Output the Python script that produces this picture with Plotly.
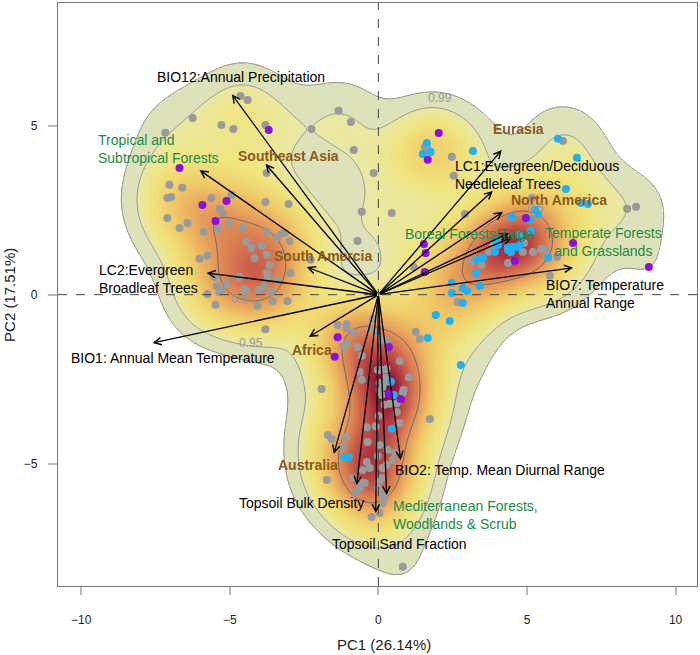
import numpy as np
import plotly.graph_objects as go

# ---------------- data (PC1, PC2 scores) ----------------
gray_x = [-4.64, -4.40, -6.25, -7.17, -5.28, -4.88, -3.80, -2.25, -1.34, -0.93,
          -3.76, -7.03, -6.60, -6.97, -7.10, -5.62, -4.94, -3.80, -3.02, -7.10,
          -6.69, -6.42, -5.34, -5.24, -5.40, -5.04, -4.57, -3.76, -3.43, -3.26,
          -3.16, -2.99, -5.88, -4.44, -4.27, -4.17, -3.76, -6.02, -5.75, -2.28,
          -3.66, -3.76, -3.73, -3.43, -2.96, -5.51, -5.44, -5.11, -4.67, -4.51,
          -4.44, -5.25, -5.35, -5.75, -3.83, -3.60, -4.03, -5.48, -4.07, -3.56,
          -3.06, -3.80, -3.93,
          -0.83, -0.16, -0.56, 0.45, -0.70, 2.47, 2.54, 1.56, 1.66, 2.91,
          1.19, 6.21, 8.37, 8.67, 5.17, 4.90, 4.86, 5.20, 5.47, 5.64,
          6.01, 4.36, 3.48, 3.14, 3.86, 3.72, 5.77, 2.67,
          -0.19, -1.37, -1.07, -1.07, -0.83, -0.23, -0.02, 1.26, 1.39, -1.07,
          -1.17, -0.70, 0.08, 0.28, -0.56, 0.72, -0.02, 0.11, 0.28, -0.63,
          -0.56, 1.02, 0.25, -1.91, 0.04, 0.14, 0.28, 0.04, 0.11, 0.85,
          0.82, 0.21, 0.38, 0.62, 0.62, 0.01, 0.72, -0.09, -0.39, 1.73,
          -1.70, -1.57, -1.10, -1.20, 0.04, -0.36, 0.31, 0.55, -0.02, -0.39,
          0.48, -0.53, -0.29, 0.14, 0.28, -1.74, -0.87, -0.63, -0.46, 0.01,
          0.11, -0.76, -0.63, -0.02, 0.14, 0.21, 0.14, -0.23, 0.04, 0.82]
gray_y = [5.88, 5.76, 5.23, 4.79, 5.02, 4.90, 5.02, 4.90, 5.44, 5.11,
          3.60, 3.25, 3.16, 2.89, 2.86, 2.86, 2.95, 2.74, 2.68, 2.27,
          1.97, 2.12, 2.54, 2.42, 1.95, 2.12, 1.97, 1.86, 1.68, 1.80,
          1.83, 1.59, 1.86, 1.56, 1.38, 1.08, 1.18, 1.06, 1.15, 1.03,
          0.88, 0.64, 0.52, 0.46, 0.64, 0.52, 0.26, 0.35, 0.52, 0.17,
          0.11, 0.14, 0.08, 0.02, 0.26, 0.08, 0.14, -0.30, -0.33, -0.19,
          -0.19, -1.02, 1.45,
          4.28, 3.60, 2.45, 2.42, 1.59, 4.08, 3.52, 4.37, 4.31, 2.39,
          0.82, 4.55, 2.54, 2.60, 2.86, 1.53, 1.26, 1.26, 1.35, 1.35,
          1.12, 0.94, 0.88, 0.97, 1.47, 1.27, 0.56, -0.22,
          -0.72, -0.90, -0.87, -0.99, -1.13, -1.02, -1.13, -1.10, -1.31, -1.43,
          -1.52, -1.55, -1.34, -1.37, -1.81, -1.96, -2.23, -2.23, -2.20, -2.29,
          -2.52, -2.44, -2.44, -2.79, -2.61, -2.73, -2.58, -2.82, -2.97, -2.82,
          -2.91, -3.26, -3.23, -3.21, -3.47, -3.59, -3.80, -3.89, -3.92, -3.68,
          -4.15, -4.27, -4.21, -4.51, -4.45, -4.36, -4.59, -4.68, -4.77, -4.95,
          -4.89, -5.19, -5.13, -5.13, -5.04, -5.48, -5.43, -5.54, -5.57, -5.54,
          -5.43, -5.84, -5.72, -5.72, -5.87, -6.02, -6.17, -6.58, -6.46, -8.05]

purple_x = [-3.69, -6.69, -5.11, -5.92, -5.48, 2.03, 1.66, 1.53, 1.59, 1.56,
            4.96, 6.55, 4.59, 9.10, -1.37, -1.47, 0.35, 0.35, 0.75]
purple_y = [4.87, 3.75, 2.77, 2.65, 2.18, 4.78, 3.99, 1.50, 1.23, 0.67,
            2.27, 1.53, 1.00, 0.82, -1.26, -1.84, -1.55, -2.94, -3.09]

blue_x = [1.63, 1.49, 1.76, 3.18, 6.04, 6.68, 6.31, 6.82, 7.05, 5.27,
          5.37, 4.49, 5.10, 5.13, 4.76, 3.99, 4.02, 4.36, 4.53, 4.66,
          4.76, 4.36, 3.92, 4.46, 5.71, 3.31, 3.52, 3.28, 3.41, 2.47,
          2.47, 2.84, 2.98, 2.84, 1.93, 2.40, 1.66, 2.77, 0.42, 0.52,
          0.45, -1.14, -1.00]
blue_y = [4.49, 4.16, 4.22, 4.25, 4.61, 4.05, 3.13, 2.71, 2.68, 2.51,
          2.39, 2.30, 2.21, 1.89, 1.77, 1.62, 1.47, 1.41, 1.41, 1.41,
          1.47, 1.32, 1.26, 1.26, 1.09, 1.03, 1.09, 0.64, 0.26, 0.35,
          0.05, 0.20, 0.11, -0.25, -0.60, -0.78, -1.28, -2.08, -2.58, -2.97,
          -3.97, -4.80, -4.80]

# loading arrows (tips)
arrow_x = [-4.93, -6.02, -3.80, -2.41, -5.78, -7.60, -2.34, -1.50, -0.73, -0.09,
           0.28, 0.75, 4.15, 3.85, 4.19, 4.39, 4.50, 6.55]
arrow_y = [5.93, 3.69, 3.87, 0.82, 0.64, -1.43, -1.25, -4.71, -5.63, -6.46,
           -5.93, -4.89, 4.28, 3.07, 2.45, 1.82, 1.70, 0.80]

# variable labels (black)
var_text = ["BIO12:Annual Precipitation", "LC2:Evergreen<br>Broadleaf Trees",
            "BIO1: Annual Mean Temperature", "Topsoil Bulk Density",
            "Topsoil Sand Fraction", "BIO2: Temp. Mean Diurnal Range",
            "LC1:Evergreen/Deciduous<br>Needleleaf Trees", "BIO7: Temperature<br>Annual Range"]
var_x = [-4.61, -9.46, -6.90, -2.58, 0.72, 4.08, 2.50, 5.57]
var_y = [6.44, 0.46, -1.87, -6.17, -7.38, -5.19, 3.53, 0.01]
var_anchor = ["center", "left", "center", "center", "center", "center", "left", "left"]

# biome labels (green)
biome_text = ["Tropical and<br>Subtropical Forests", "Mediterranean Forests,<br>Woodlands & Scrub",
              "Boreal Forests/Taiga", "Temperate Forests<br>and Grasslands"]
biome_x = [-9.49, 0.41, 3.08, 7.56]
biome_y = [4.31, -6.52, 1.80, 1.56]
biome_anchor = ["left", "left", "center", "center"]

# region labels (brown, bold)
region_text = ["Southeast Asia", "South Amercia", "Africa", "Australia", "Eurasia", "North America"]
region_x = [-3.02, -1.88, -2.25, -2.38, 4.73, 6.08]
region_y = [4.11, 1.15, -1.64, -5.04, 4.90, 2.81]

# contour labels
clabel_text = ["0.99", "0.95", "0.5", "0.5"]
clabel_x = [2.06, -4.27, -4.67, 5.30]
clabel_y = [5.83, -1.42, -0.13, 2.55]
contour_probs = [0.99, 0.95, 0.5]

XR = [-10.78, 10.72]
YR = [-8.62, 8.63]

# ---------------- kernel density ----------------
ax_ = np.array(gray_x + purple_x + blue_x)
ay_ = np.array(gray_y + purple_y + blue_y)
n = len(ax_)
gx = np.linspace(XR[0], XR[1], 440)
gy = np.linspace(YR[0], YR[1], 380)
hx, hy = 0.95, 0.85
norm = n * 2 * np.pi * hx * hy
Kx = np.exp(-0.5 * ((gx[None, :] - ax_[:, None]) / hx) ** 2)
Ky = np.exp(-0.5 * ((gy[None, :] - ay_[:, None]) / hy) ** 2)
dens = (Ky.T @ Kx) / norm

# density at the sample points -> contour levels (levels tuned by eye to the picture)
dxp = (ax_[:, None] - ax_[None, :]) / hx
dyp = (ay_[:, None] - ay_[None, :]) / hy
f_pts = np.exp(-0.5 * (dxp ** 2 + dyp ** 2)).sum(axis=1) / norm
thr = {p: float(np.quantile(f_pts, 1 - p)) for p in contour_probs}
thr[0.95] = float(np.quantile(f_pts, 0.036))
# outer ("0.99") envelope: just encloses every sample
thr[0.99] = 0.995 * float(f_pts.min())
t99, t95, t50 = thr[0.99], thr[0.95], thr[0.5]
dmax = dens.max()

zfill = np.where(dens >= t99, dens, np.nan)
p95 = (t95 - t99) / (dmax - t99)


def pos(v):
    return float(min(max(v, 0.0), 1.0))


colorscale = [
    [0.0, "rgb(222,226,186)"],
    [pos(p95 - 1e-4), "rgb(222,226,186)"],
    [pos(p95), "rgb(234,232,165)"],
    [pos(p95 + 0.10), "rgb(240,228,125)"],
    [pos(p95 + 0.25), "rgb(240,205,105)"],
    [pos(p95 + 0.42), "rgb(233,163,92)"],
    [pos(p95 + 0.60), "rgb(214,116,80)"],
    [pos(p95 + 0.78), "rgb(182,62,66)"],
    [1.0, "rgb(135,10,55)"],
]

fig = go.Figure()
fig.add_trace(go.Heatmap(x=gx, y=gy, z=zfill, zmin=t99, zmax=dmax, colorscale=colorscale,
                         showscale=False, zsmooth=False, hoverinfo="skip"))

line_cols = {0.99: "rgb(140,140,125)", 0.95: "rgb(150,150,150)", 0.5: "rgb(105,105,105)"}
for p in contour_probs:
    t = thr[p]
    fig.add_trace(go.Contour(x=gx, y=gy, z=dens, autocontour=False,
                             contours=dict(start=t, end=t, size=1.0, coloring="none"),
                             line=dict(color=line_cols[p], width=1), showscale=False,
                             hoverinfo="skip"))

fig.add_trace(go.Scatter(x=gray_x, y=gray_y, mode="markers",
                         marker=dict(size=8, color="#9a9a9a"), hoverinfo="skip"))
fig.add_trace(go.Scatter(x=blue_x, y=blue_y, mode="markers",
                         marker=dict(size=8, color="#22b0f5"), hoverinfo="skip"))
fig.add_trace(go.Scatter(x=purple_x, y=purple_y, mode="markers",
                         marker=dict(size=8, color="#8a10e0"), hoverinfo="skip"))

ann = []
for x, y in zip(arrow_x, arrow_y):
    ann.append(dict(x=x, y=y, ax=0, ay=0, xref="x", yref="y", axref="x", ayref="y",
                    text="", showarrow=True, arrowhead=5, arrowsize=1.1, arrowwidth=1.3,
                    arrowcolor="black", standoff=0, startstandoff=0))

FONT = "Liberation Sans, Arial, sans-serif"
for t, x, y, a in zip(var_text, var_x, var_y, var_anchor):
    ann.append(dict(x=x, y=y, xref="x", yref="y", text=t, showarrow=False, xanchor=a,
                    align=a, font=dict(family=FONT, size=14, color="black")))
for t, x, y, a in zip(biome_text, biome_x, biome_y, biome_anchor):
    ann.append(dict(x=x, y=y, xref="x", yref="y", text=t, showarrow=False, xanchor=a,
                    align=a, font=dict(family=FONT, size=14, color="#1d8a4a")))
for t, x, y in zip(region_text, region_x, region_y):
    ann.append(dict(x=x, y=y, xref="x", yref="y", text="<b>" + t + "</b>", showarrow=False,
                    font=dict(family=FONT, size=14, color="#8c5a18")))
for t, x, y in zip(clabel_text, clabel_x, clabel_y):
    ann.append(dict(x=x, y=y, xref="x", yref="y", text=t, showarrow=False,
                    font=dict(family=FONT, size=12, color="#9a9a9a")))

ann.append(dict(x=0.51, y=-0.100, xref="paper", yref="paper", text="PC1 (26.14%)",
                showarrow=False, font=dict(family=FONT, size=15, color="#222"),
                yanchor="middle"))
ann.append(dict(x=-0.076, y=0.5, xref="paper", yref="paper", text="PC2 (17.51%)",
                showarrow=False, textangle=-90, font=dict(family=FONT, size=15, color="#222"),
                xanchor="center", yanchor="middle"))

shapes = [
    dict(type="line", x0=0, x1=0, y0=YR[0], y1=YR[1], xref="x", yref="y",
         line=dict(color="#444444", width=1, dash="dash"), layer="above"),
    dict(type="line", x0=XR[0], x1=XR[1], y0=0, y1=0, xref="x", yref="y",
         line=dict(color="#444444", width=1, dash="dash"), layer="above"),
]

fig.update_layout(
    width=700, height=655, margin=dict(l=58, r=3, t=3, b=69),
    plot_bgcolor="white", paper_bgcolor="white", showlegend=False,
    annotations=ann, shapes=shapes,
    font=dict(family=FONT, size=12, color="#222"),
)
fig.update_xaxes(range=XR, tickvals=[-10, -5, 0, 5, 10], ticks="outside", ticklen=8,
                 tickcolor="#bbbbbb", tickwidth=1.5, showline=True, mirror=True,
                 linecolor="#777777", linewidth=1.3, showgrid=False, zeroline=False,
                 ticklabelstandoff=14, tickfont=dict(size=12, family=FONT, color="#222"))
fig.update_yaxes(range=YR, tickvals=[-5, 0, 5], ticks="outside", ticklen=9,
                 tickcolor="#bbbbbb", tickwidth=1.5, showline=True, mirror=True,
                 linecolor="#777777", linewidth=1.3, showgrid=False, zeroline=False,
                 ticklabelstandoff=8, tickfont=dict(size=12, family=FONT, color="#222"))

fig.write_html("out.html", config={"displayModeBar": False},
               post_script="document.body.style.margin='0px';document.body.style.overflow='hidden';")
